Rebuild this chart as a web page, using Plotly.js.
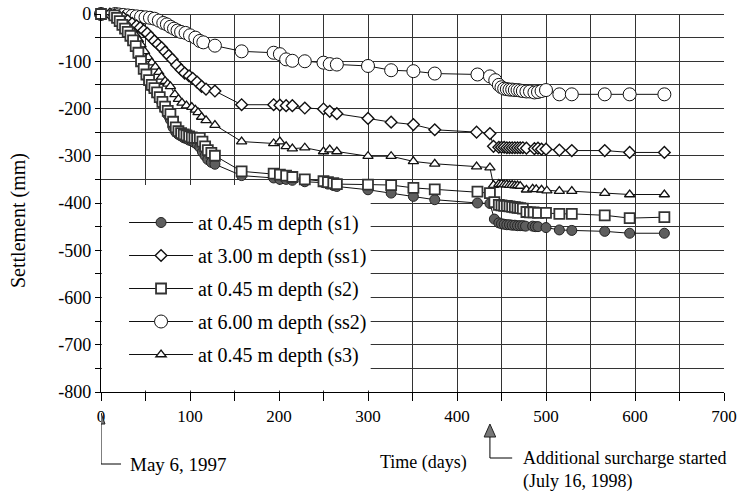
<!DOCTYPE html>
<html><head><meta charset="utf-8">
<script src="https://cdn.plot.ly/plotly-3.0.1.min.js"></script>
<style>html,body{margin:0;padding:0;background:#fff}</style>
</head><body>
<div id="chart" style="width:740px;height:493px"></div>
<script>
// ---- data (days since May 6, 1997 ; settlement in mm) ----
const s1Days = [0,15,18,21,24,27,30,33,36,39,42,45,48,51,54,57,60,63,66,69,72,75,78,81,84,87,90,93,96,99,102,105,108,111,114,117,120,124,128,158,194,201,208,215,229,250,255,261,265,300,326,351,375,423,437,442,447,450,453,456,459,462,465,468,471,474,477,485,488,491,500,515,529,566,594,633];
const s1Vals = [0,-3,-8,-16,-24,-32,-39,-48,-58,-70,-86,-102,-118,-132,-146,-155,-160,-170,-181,-192,-202,-213,-224,-240,-250,-255,-258,-262,-264,-267,-269,-272,-276,-282,-292,-300,-308,-314,-318,-342,-347,-350,-350,-352,-355,-357,-360,-363,-365,-372,-379,-386,-393,-400,-401,-434,-442,-444,-445,-446,-446,-447,-447,-448,-448,-448,-449,-449,-450,-450,-452,-457,-458,-460,-464,-464];

const ss1Days = [0,10,15,20,25,30,35,40,44,48,52,56,60,64,68,72,76,80,85,90,94,99,103,108,113,118,128,158,194,201,208,215,229,250,257,265,300,326,351,375,422,437,441,447,450,453,456,459,462,465,468,471,474,478,487,491,495,500,515,529,566,594,633];
const ss1Vals = [0,0,-2,-5,-8,-14,-20,-25,-29,-35,-41,-49,-57,-64,-71,-80,-88,-96,-108,-118,-125,-131,-136,-144,-153,-159,-163,-192,-192,-193,-194,-194,-199,-201,-206,-211,-221,-229,-234,-245,-250,-253,-280,-282,-282,-282,-283,-283,-283,-283,-283,-283,-283,-284,-285,-284,-286,-286,-288,-289,-289,-293,-293];

const s2Days = [0,15,18,21,24,27,30,33,36,39,42,45,48,51,54,57,60,63,66,69,72,75,78,81,84,87,90,93,96,99,102,105,108,111,114,117,120,124,128,158,194,201,208,215,229,250,255,261,265,300,326,351,375,423,437,442,447,450,453,456,459,462,465,468,471,474,478,482,486,491,500,515,529,566,594,633];
const s2Vals = [0,-3,-8,-15,-23,-31,-38,-46,-56,-68,-82,-100,-116,-128,-140,-150,-157,-166,-176,-186,-196,-205,-212,-228,-240,-248,-252,-255,-257,-259,-261,-262,-262,-262,-270,-280,-288,-294,-300,-333,-338,-340,-342,-345,-350,-354,-356,-358,-360,-361,-362,-368,-371,-376,-379,-398,-404,-405,-406,-406,-407,-408,-409,-410,-411,-412,-419,-420,-420,-421,-421,-423,-423,-426,-432,-430];

const ss2Days = [0,16,20,25,30,35,40,45,50,55,60,65,70,74,78,82,86,90,95,100,106,111,115,128,158,194,201,208,215,229,250,257,265,300,326,351,375,423,437,443,447,450,453,456,459,462,465,468,471,474,478,482,487,491,495,500,515,529,566,594,633];
const ss2Vals = [0,0,-1,-2,-3,-4,-5,-6,-7,-8,-10,-14,-19,-22,-27,-31,-35,-38,-40,-45,-50,-57,-60,-67,-79,-82,-85,-96,-99,-100,-103,-106,-107,-110,-119,-121,-126,-128,-132,-140,-150,-155,-158,-159,-160,-160,-161,-161,-162,-163,-164,-164,-166,-165,-163,-161,-170,-170,-170,-170,-170];

const s3Days = [0,15,20,25,30,35,39,42,45,49,53,57,61,65,68,72,75,78,83,87,91,96,102,106,109,113,118,128,158,194,201,208,215,229,250,257,265,300,326,351,375,422,437,441,447,450,453,456,459,462,465,468,471,478,485,489,495,501,515,529,566,594,633];
const s3Vals = [0,-2,-6,-14,-24,-35,-45,-54,-65,-79,-92,-103,-112,-123,-133,-142,-148,-153,-170,-180,-188,-194,-197,-203,-208,-218,-225,-235,-270,-274,-270,-280,-285,-283,-291,-287,-291,-301,-301,-312,-317,-323,-325,-362,-360,-360,-361,-361,-362,-362,-363,-363,-364,-372,-370,-371,-372,-374,-375,-375,-379,-382,-382];

const seriesNames = ["at 0.45 m depth (s1)","at 3.00 m depth (ss1)","at 0.45 m depth (s2)","at 6.00 m depth (ss2)","at 0.45 m depth (s3)"];
const yTickVals = [0,-100,-200,-300,-400,-500,-600,-700,-800];
const yTickText = ["0","-100","-200","-300","-400","-500","-600","-700","-800"];
const xTickVals = [0,100,200,300,400,500,600,700];
const xTickText = ["0","100","200","300","400","500","600","700"];

const SERIF = '"Liberation Serif","Times New Roman",serif';
const ink = '#111';

function tr(x, y, name, rank, marker) {
  return {x: x, y: y, name: name, type: 'scatter', mode: 'lines+markers',
    legendgroup: 'g' + rank, legendrank: rank, cliponaxis: false,
    line: {color: ink, width: 1}, marker: marker};
}
const traces = [
  tr(ss2Days, ss2Vals, seriesNames[3], 4, {symbol:'circle', size:13, color:'#fff', line:{color:ink, width:1}}),
  tr(ss1Days, ss1Vals, seriesNames[1], 2, {symbol:'diamond', size:9, color:'#fff', line:{color:ink, width:1.4}}),
  tr(s3Days, s3Vals, seriesNames[4], 5, {symbol:'triangle-up', size:9, color:'#fff', line:{color:ink, width:1.3}}),
  tr(s1Days, s1Vals, seriesNames[0], 1, {symbol:'circle', size:10, color:'#5e5e5e', line:{color:'#222', width:1}}),
  tr(s2Days, s2Vals, seriesNames[2], 3, {symbol:'square', size:10, color:'#fff', line:{color:'#333', width:1.8}})
];

function py(p) { return (392 - p) / 378; }
function px(p) { return (p - 101) / 623; }

const layout = {
  width: 740, height: 493,
  margin: {l: 101, r: 16, t: 14, b: 101},
  paper_bgcolor: '#fff', plot_bgcolor: '#fff',
  font: {family: SERIF, size: 17, color: '#000'},
  showlegend: true,
  legend: {x: 0.037, xanchor: 'left', y: py(203), yanchor: 'top', bgcolor: 'rgba(0,0,0,0)',
    borderwidth: 0, font: {family: SERIF, size: 20, color: '#000'}, itemwidth: 64,
    itemsizing: 'trace', tracegroupgap: 4, traceorder: 'grouped'},
  xaxis: {range: [0, 700], tickvals: xTickVals, ticktext: xTickText, ticks: 'outside', ticklen: 8,
    tickcolor: '#000', showline: true, linecolor: '#000', linewidth: 1.2, zeroline: false,
    showgrid: true, gridcolor: '#333', gridwidth: 1,
    minor: {dtick: 50, tick0: 0, ticks: 'outside', ticklen: 8, tickcolor: '#000', showgrid: true, gridcolor: '#333', gridwidth: 1},
    tickfont: {family: SERIF, size: 17}},
  yaxis: {range: [-800, 0], tickvals: yTickVals, ticktext: yTickText, ticks: 'outside', ticklen: 5,
    tickcolor: '#000', showline: true, linecolor: '#000', linewidth: 1.2, zeroline: true, zerolinecolor: '#333', zerolinewidth: 1,
    showgrid: true, gridcolor: '#333', gridwidth: 1,
    minor: {dtick: 50, tick0: 0, ticks: 'outside', ticklen: 5, tickcolor: '#000', showgrid: true, gridcolor: '#333', gridwidth: 1},
    tickfont: {family: SERIF, size: 18}},
  shapes: [
    {type: 'rect', layer: 'between', xref: 'x', yref: 'y', x0: 1, x1: 303, y0: -797, y1: -362, fillcolor: '#fff', line: {width: 0}},
    {type: 'path', xref: 'x', yref: 'paper', path: `M -4.5,${py(424)} L 0,${py(413)} L 4.5,${py(424)} Z`, fillcolor: '#777', line: {color: '#222', width: 1}},
    {type: 'path', xref: 'x', yref: 'paper', path: `M 0,${py(424)} L 0,${py(464)} L 22.5,${py(464)}`, line: {color: '#000', width: 1}},
    {type: 'path', xref: 'x', yref: 'paper', path: `M 430.5,${py(437)} L 437,${py(424)} L 443.5,${py(437)} Z`, fillcolor: '#777', line: {color: '#222', width: 1}},
    {type: 'path', xref: 'x', yref: 'paper', path: `M 437,${py(437)} L 437,${py(458)} L 462,${py(458)}`, line: {color: '#000', width: 1}}
  ],
  annotations: [
    {xref: 'paper', yref: 'paper', x: px(18), y: py(221), xanchor: 'center', yanchor: 'middle', showarrow: false, textangle: -90,
      text: 'Settlement (mm)', font: {family: SERIF, size: 20}},
    {xref: 'paper', yref: 'paper', x: px(423), y: py(462), xanchor: 'center', yanchor: 'middle', showarrow: false,
      text: 'Time (days)', font: {family: SERIF, size: 18}},
    {xref: 'x', yref: 'paper', x: 30, y: py(464), xanchor: 'left', yanchor: 'middle', showarrow: false,
      text: 'May 6, 1997', font: {family: SERIF, size: 19}},
    {xref: 'x', yref: 'paper', x: 472, y: py(470), xanchor: 'left', yanchor: 'middle', showarrow: false, align: 'left',
      text: 'Additional surcharge started<br>(July 16, 1998)', font: {family: SERIF, size: 18}}
  ]
};

Plotly.newPlot('chart', traces, layout, {displayModeBar: false, staticPlot: true});
</script>
</body></html>
